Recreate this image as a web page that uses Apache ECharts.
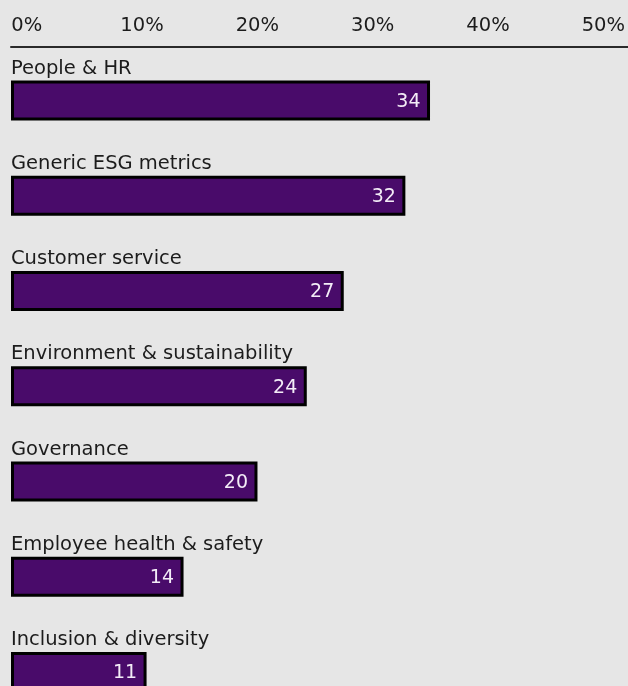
<!DOCTYPE html>
<html>
<head>
<meta charset="utf-8">
<script src="https://cdn.jsdelivr.net/npm/echarts@6/dist/echarts.min.js"></script>
<style>
  html, body { margin: 0; padding: 0; background: #e6e6e6; overflow: hidden; }
  /* the last row runs past the bottom edge of the view */
  #chart { width: 628px; height: 720px; }
</style>
</head>
<body>
<div id="chart"></div>
<script>
// Share of respondents by topic, %
const categories = [
  'People & HR',
  'Generic ESG metrics',
  'Customer service',
  'Environment & sustainability',
  'Governance',
  'Employee health & safety',
  'Inclusion & diversity'
];
const values = [34, 32, 27, 24, 20, 14, 11];
const tickValues = [0, 10, 20, 30, 40, 50];

const FONT = 'DejaVu Sans';
const INK = '#1c1c1c';
const PURPLE = '#490b6a';

const chart = echarts.init(document.getElementById('chart'), null, { renderer: 'canvas' });

chart.setOption({
  backgroundColor: '#e6e6e6',
  animation: false,
  grid: [
    // bars
    { left: 11, right: 0.8, top: 52.9, height: 666.75, containLabel: false },
    // percentage scale labels
    { left: 26.7, right: 22, top: 46, height: 1, containLabel: false },
    // rule under the scale
    { left: 11, right: 0, top: 46, height: 1, containLabel: false }
  ],
  xAxis: [
    {
      gridIndex: 0, type: 'value', min: 0, max: 50, interval: 10,
      axisLine: { show: false }, axisTick: { show: false },
      axisLabel: { show: false }, splitLine: { show: false }
    },
    {
      gridIndex: 1, type: 'value', position: 'top',
      min: tickValues[0], max: tickValues[tickValues.length - 1], interval: 10,
      axisLine: { show: false }, axisTick: { show: false }, splitLine: { show: false },
      axisLabel: {
        show: true, margin: 20, verticalAlign: 'middle', align: 'center',
        color: INK, fontFamily: FONT, fontSize: 19.5,
        formatter: '{value}%'
      }
    },
    {
      gridIndex: 2, type: 'value', position: 'top', min: 0, max: 1,
      axisLine: { show: true, lineStyle: { color: '#2a2a2a', width: 2 } },
      axisTick: { show: false }, axisLabel: { show: false }, splitLine: { show: false }
    }
  ],
  yAxis: [
    {
      gridIndex: 0, type: 'category', data: categories, inverse: true,
      axisLine: { show: false }, axisTick: { show: false }, axisLabel: { show: false }
    },
    { gridIndex: 1, type: 'value', show: false },
    { gridIndex: 2, type: 'value', show: false }
  ],
  series: [
    {
      type: 'bar', xAxisIndex: 0, yAxisIndex: 0,
      data: values, barWidth: 40,
      itemStyle: { color: PURPLE, borderColor: '#000', borderWidth: 3 },
      label: {
        show: true, position: 'insideRight', distance: 9.5, offset: [0, 1.5],
        color: '#f3ecf7', fontFamily: FONT, fontSize: 19
      },
      silent: true
    },
    {
      // category names sitting above each bar
      type: 'bar', xAxisIndex: 0, yAxisIndex: 0,
      data: values, barWidth: 40, barGap: '-100%',
      itemStyle: { color: 'rgba(0,0,0,0)' },
      label: {
        show: true, position: [0, -12], align: 'left', verticalAlign: 'middle',
        formatter: '{b}', color: INK, fontFamily: FONT, fontSize: 19.5
      },
      silent: true
    }
  ]
});
</script>
</body>
</html>
